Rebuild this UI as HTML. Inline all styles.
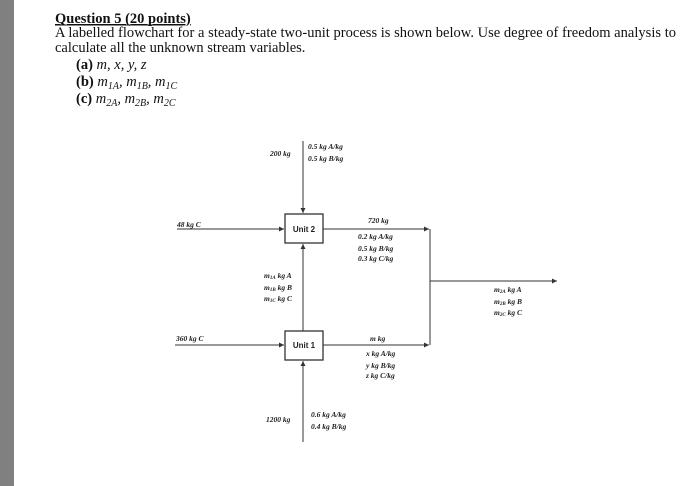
<!DOCTYPE html>
<html><head><style>
html,body{margin:0;padding:0;background:#fff;}
body{width:700px;height:486px;overflow:hidden;position:relative;}
.bar{position:absolute;left:0;top:0;width:14px;height:486px;background:#808080;}
svg{position:absolute;left:0;top:0;}
.t{font-family:"Liberation Serif",serif;font-size:14.5px;fill:#111;}
.d{font-family:"Liberation Serif",serif;font-size:7.5px;font-weight:bold;font-style:italic;fill:#222;}
.u{font-family:"Liberation Sans",sans-serif;font-size:8px;font-weight:bold;fill:#222;}
</style></head><body>
<div class="bar"></div>
<svg width="700" height="486" viewBox="0 0 700 486">
<defs><marker id="a" markerWidth="6" markerHeight="6" refX="5" refY="3" orient="auto" markerUnits="userSpaceOnUse"><path d="M0,0.5 L5,3 L0,5.5z" fill="#333"/></marker></defs>
<text class="t" x="55" y="23" font-weight="bold" text-decoration="underline">Question 5  (20 points)</text>
<line x1="55" y1="25" x2="183" y2="25" stroke="#111" stroke-width="1"/>
<text class="t" x="55" y="37" textLength="621" lengthAdjust="spacing">A labelled flowchart for a steady-state two-unit process is shown below. Use degree of freedom analysis to</text>
<text class="t" x="55" y="52">calculate all the unknown stream variables.</text>
<text class="t" x="76" y="69"><tspan font-weight="bold">(a)</tspan> <tspan font-style="italic">m, x, y, z</tspan></text>
<text class="t" x="76" y="86"><tspan font-weight="bold">(b)</tspan> <tspan font-style="italic">m<tspan font-size="10" dy="3">1A</tspan><tspan dy="-3">, m</tspan><tspan font-size="10" dy="3">1B</tspan><tspan dy="-3">, m</tspan><tspan font-size="10" dy="3">1C</tspan></tspan></text>
<text class="t" x="76" y="103"><tspan font-weight="bold">(c)</tspan> <tspan font-style="italic">m<tspan font-size="10" dy="3">2A</tspan><tspan dy="-3">, m</tspan><tspan font-size="10" dy="3">2B</tspan><tspan dy="-3">, m</tspan><tspan font-size="10" dy="3">2C</tspan></tspan></text>

<g stroke="#333" stroke-width="1" fill="none">
<rect x="285" y="214" width="38" height="29" stroke-width="1.3"/>
<rect x="285" y="331" width="38" height="29" stroke-width="1.3"/>
<line x1="303" y1="141" x2="303" y2="213" marker-end="url(#a)"/>
<line x1="177" y1="229" x2="284" y2="229" marker-end="url(#a)"/>
<line x1="323" y1="229" x2="429" y2="229" marker-end="url(#a)"/>
<line x1="430" y1="229" x2="430" y2="345"/>
<line x1="430" y1="281" x2="557" y2="281" marker-end="url(#a)"/>
<line x1="303" y1="331" x2="303" y2="244" marker-end="url(#a)"/>
<line x1="175" y1="345" x2="284" y2="345" marker-end="url(#a)"/>
<line x1="323" y1="345" x2="429" y2="345" marker-end="url(#a)"/>
<line x1="303" y1="442" x2="303" y2="361" marker-end="url(#a)"/>
</g>
<text class="u" x="304" y="232" text-anchor="middle">Unit 2</text>
<text class="u" x="304" y="348" text-anchor="middle">Unit 1</text>

<text class="d" x="270" y="156">200 kg</text>
<text class="d" x="308" y="149">0.5 kg A/kg</text>
<text class="d" x="308" y="161">0.5 kg B/kg</text>
<text class="d" x="177" y="227">48 kg C</text>
<text class="d" x="368" y="223">720  kg</text>
<text class="d" x="358" y="239">0.2 kg A/kg</text>
<text class="d" x="358" y="251">0.5 kg B/kg</text>
<text class="d" x="358" y="261">0.3 kg C/kg</text>
<text class="d" x="264" y="278">m<tspan font-size="5" dy="1">1A</tspan><tspan dy="-1"> kg A</tspan></text>
<text class="d" x="264" y="290">m<tspan font-size="5" dy="1">1B</tspan><tspan dy="-1"> kg B</tspan></text>
<text class="d" x="264" y="301">m<tspan font-size="5" dy="1">1C</tspan><tspan dy="-1">  kg C</tspan></text>
<text class="d" x="494" y="292">m<tspan font-size="5" dy="1">2A</tspan><tspan dy="-1"> kg A</tspan></text>
<text class="d" x="494" y="304">m<tspan font-size="5" dy="1">2B</tspan><tspan dy="-1"> kg B</tspan></text>
<text class="d" x="494" y="315">m<tspan font-size="5" dy="1">2C</tspan><tspan dy="-1">  kg C</tspan></text>
<text class="d" x="176" y="341">360 kg C</text>
<text class="d" x="370" y="341">m  kg</text>
<text class="d" x="366" y="356">x kg A/kg</text>
<text class="d" x="366" y="368">y kg B/kg</text>
<text class="d" x="366" y="378">z kg C/kg</text>
<text class="d" x="266" y="422">1200 kg</text>
<text class="d" x="311" y="417">0.6 kg A/kg</text>
<text class="d" x="311" y="429">0.4 kg B/kg</text>
</svg>
</body></html>
